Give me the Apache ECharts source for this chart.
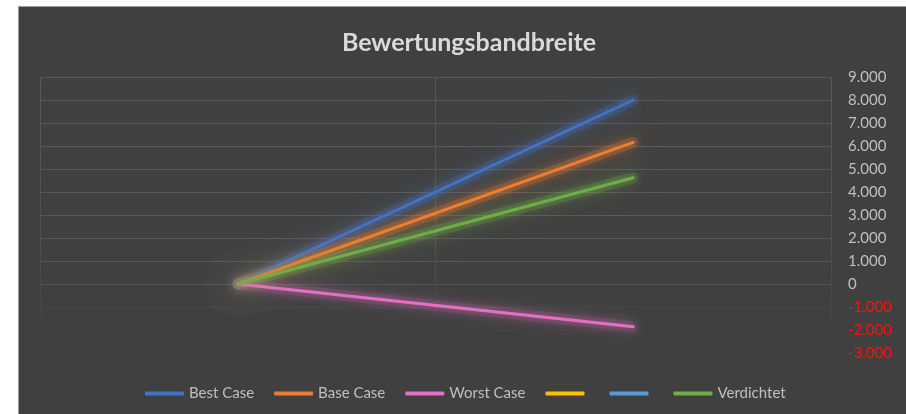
<!DOCTYPE html>
<html>
<head>
<meta charset="utf-8">
<script src="https://cdn.jsdelivr.net/npm/echarts@6/dist/echarts.min.js"></script>
<style>
  html, body { margin: 0; padding: 0; background: #ffffff; }
  #panel {
    position: absolute; left: 18px; top: 6px; width: 888px; height: 408px;
    background: #404040; border-left: 1px solid #9a9a9a; border-top: 1px solid #9a9a9a;
    box-sizing: border-box;
  }
  #chart { position: absolute; left: 0; top: 0; width: 906px; height: 414px; }
</style>
</head>
<body>
<div id="panel"></div>
<div id="chart"></div>
<script>
// Two valuation points: start and end of the range
const categories = ['Start', 'Ende'];
const seriesNames = ['Best Case', 'Base Case', 'Worst Case', '\u200b', '\u200b\u200b', 'Verdichtet'];
const bestCase = [0, 8000];
const baseCase = [0, 6160];
const worstCase = [0, -1860];
const emptyA = [];
const emptyB = [];
const verdichtet = [0, 4620];
const yMin = -3000, yMax = 9000, yStep = 1000;

const colors = ['#4472C4', '#ED7D31', '#E56FC4', '#FFC000', '#5B9BD5', '#70AD47'];
const glowAlpha = [0.2, 0.2, 0.08, 0.1, 0.1, 0.2];
const values = [bestCase, baseCase, worstCase, emptyA, emptyB, verdichtet];

const font = 'Lato, "Open Sans", sans-serif';

function fmt(v) {
  if (v === 0) return '0';
  const s = Math.abs(v).toString().replace(/\B(?=(\d{3})+(?!\d))/g, '.');
  return (v < 0 ? '-' : '') + s;
}

// grid lines fade out towards the bottom of the plot
const fadeVertical = {
  type: 'linear', x: 0, y: 77, x2: 0, y2: 353, global: true,
  colorStops: [
    { offset: 0, color: '#585858' },
    { offset: 0.6, color: '#505050' },
    { offset: 0.9, color: '#434343' },
    { offset: 1, color: '#404040' }
  ]
};

// soft glow underneath each line, then the line itself on top
const glowSeries = seriesNames.map((name, i) => ({
  name,
  type: 'line',
  data: values[i],
  showSymbol: false,
  symbol: 'none',
  silent: true,
  itemStyle: { color: colors[i] },
  lineStyle: {
    color: colors[i], width: 11, cap: 'round', opacity: glowAlpha[i],
    shadowColor: colors[i], shadowBlur: 24
  },
  z: 1
}));
const lineSeries = seriesNames.map((name, i) => ({
  name,
  type: 'line',
  data: values[i],
  showSymbol: false,
  symbol: 'none',
  itemStyle: { color: colors[i] },
  lineStyle: {
    color: colors[i], width: 3, cap: 'round',
    shadowColor: colors[i], shadowBlur: 10
  },
  z: 2
}));

const chart = echarts.init(document.getElementById('chart'), null, { renderer: 'canvas' });
chart.setOption({
  backgroundColor: 'transparent',
  animation: false,
  title: {
    text: 'Bewertungsbandbreite',
    left: 464, top: 25, textAlign: 'center',
    textStyle: { color: '#d9d9d9', fontFamily: font, fontSize: 25, fontWeight: 'bold' }
  },
  legend: {
    left: 140, top: 381,
    itemWidth: 39, itemHeight: 4, itemGap: 20, itemTextGap: 4,
    icon: 'roundRect',
    data: seriesNames.map((name, i) => ({ name, itemStyle: { color: colors[i] } })),
    textStyle: { color: '#bfbfbf', fontFamily: font, fontSize: 15 }
  },
  grid: { left: 40, right: 75, top: 77, bottom: 61 },
  xAxis: {
    type: 'category',
    data: categories,
    boundaryGap: true,
    axisLine: { show: false },
    axisTick: { show: false },
    axisLabel: { show: false },
    splitLine: { show: true, lineStyle: { color: fadeVertical, width: 1 } }
  },
  yAxis: {
    type: 'value',
    position: 'right',
    min: yMin, max: yMax, interval: yStep,
    axisLine: { show: false },
    axisTick: { show: false },
    axisLabel: {
      margin: 17,
      fontFamily: font, fontSize: 15,
      formatter: v => fmt(v),
      color: v => (Number(v) < 0 ? '#ff1010' : '#bfbfbf')
    },
    splitLine: {
      lineStyle: {
        width: 1,
        color: ['#404040', '#434343', '#474747', '#525252', '#575757', '#585858', '#585858',
                '#585858', '#585858', '#585858', '#585858', '#585858', '#585858']
      }
    }
  },
  series: glowSeries.concat(lineSeries)
});
</script>
</body>
</html>
